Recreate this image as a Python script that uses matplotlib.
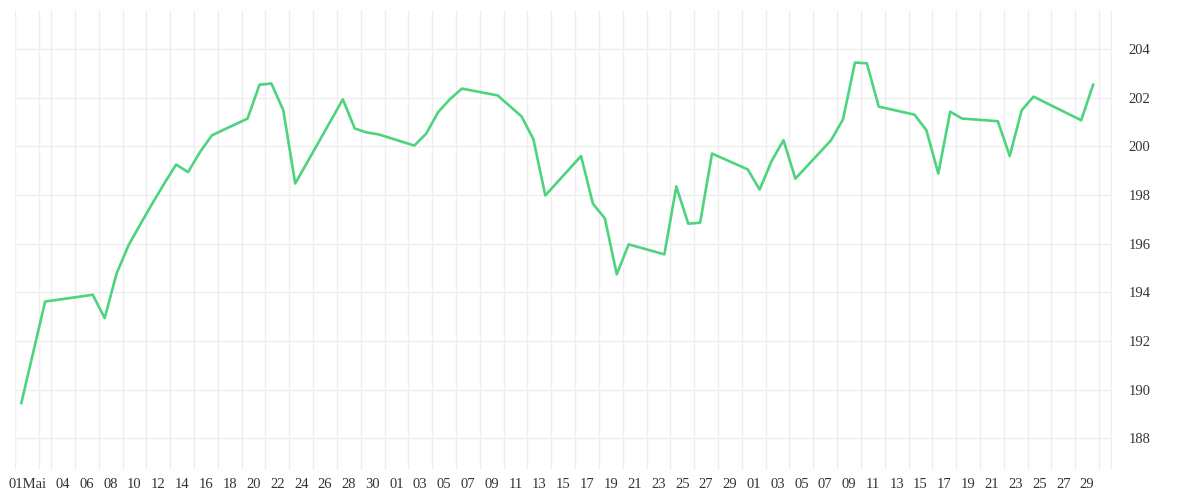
import numpy as np
import matplotlib.pyplot as plt

# day offset from 01 May, closing value
days = [0, 2, 6, 7, 8, 9, 10, 11, 12, 13, 14, 15, 16, 19, 20, 21, 22, 23,
        27, 28, 29, 30, 33, 34, 35, 36, 37, 40, 42, 43, 44, 47, 48, 49, 50,
        51, 54, 55, 56, 57, 58, 61, 62, 63, 64, 65, 68, 69, 70, 71, 72, 75,
        76, 77, 78, 79, 82, 83, 84, 85, 89, 90]
values = [189.45, 193.62, 193.9, 192.94, 194.77, 195.93, 196.8, 197.65,
          198.47, 199.25, 198.94, 199.76, 200.45, 201.14, 202.53, 202.58,
          201.48, 198.47, 201.93, 200.73, 200.57, 200.49, 200.03, 200.52,
          201.4, 201.94, 202.37, 202.09, 201.23, 200.29, 197.98, 199.6,
          197.64, 197.04, 194.74, 195.97, 195.56, 198.35, 196.82, 196.86,
          199.7, 199.05, 198.22, 199.39, 200.25, 198.67, 200.25, 201.11,
          203.44, 203.41, 201.63, 201.3, 200.66, 198.88, 201.42, 201.14,
          201.03, 199.6, 201.48, 202.04, 201.07, 202.53]

tick_days = [0] + list(range(3, 30, 2)) + list(range(31, 60, 2)) + list(range(61, 90, 2))
tick_labels = (["01Mai"] + ["%02d" % d for d in range(4, 31, 2)]
               + ["%02d" % d for d in range(1, 30, 2)]
               + ["%02d" % d for d in range(1, 30, 2)])

fig = plt.figure(figsize=(12, 5), dpi=100)
ax = fig.add_axes([0.0128, 0.06, 0.914, 0.92])
ax.plot(days, values, color='#4cd47e', linewidth=1.9, zorder=3)

ax.set_xlim(-0.45, 91.6)
ax.set_ylim(186.7, 205.6)
ax.set_xticks(np.arange(-0.5, 92, 1), minor=True)
ax.set_xticks([d + 0.5 for d in tick_days])
ax.set_xticklabels(tick_labels, fontsize=10.5, family='Liberation Serif', color='#333333')
ax.set_yticks(range(188, 205, 2))
ax.yaxis.tick_right()
ax.tick_params(axis='y', labelsize=10.5, colors='#333333', length=0, pad=12)
ax.tick_params(axis='x', which='both', length=0, pad=6)
for lab in ax.get_yticklabels():
    lab.set_family('Liberation Serif')
ax.grid(False)
ax.grid(True, axis='x', which='minor', color='#eeeeee', linewidth=1)
ax.grid(True, axis='y', which='major', color='#eeeeee', linewidth=1)
for s in ax.spines.values():
    s.set_visible(False)

plt.savefig('out.png')
